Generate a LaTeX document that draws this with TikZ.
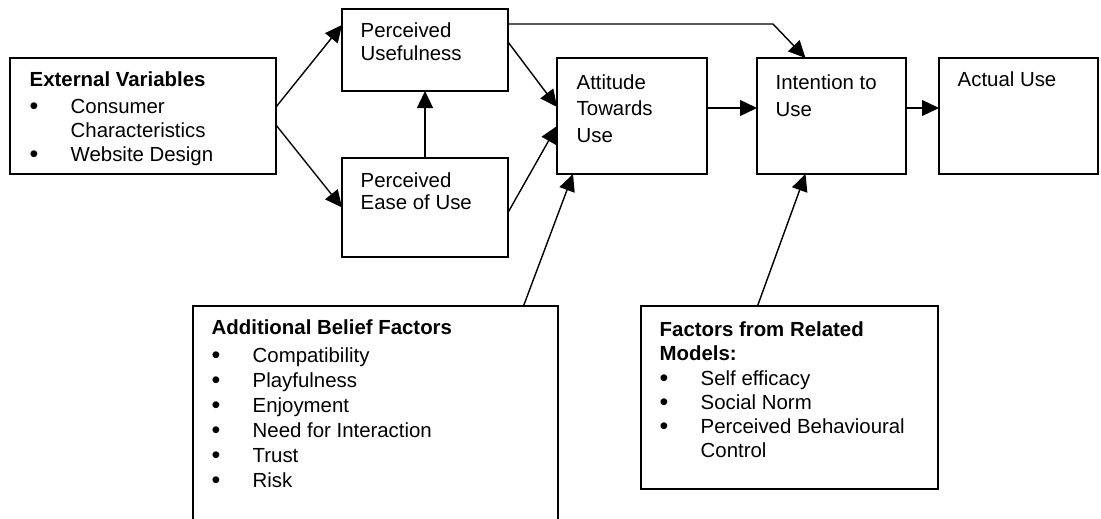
\documentclass[tikz,border=0pt]{standalone}
\usepackage{fontspec}
\setmainfont{Liberation Sans}
\usetikzlibrary{arrows.meta}

% bullet item and its continuation line
\newcommand{\itm}[1]{\makebox[41pt][l]{\raisebox{-1.7pt}{\fontsize{25}{25}\selectfont\textbullet}}#1}
\newcommand{\itmcont}[1]{\hspace*{41pt}#1}

\begin{document}
\begin{tikzpicture}[x=1pt, y=-1pt, line width=1.4pt, >={Triangle[length=17pt, width=16pt]},
  box/.style={draw, anchor=north west, inner sep=0pt, outer sep=0pt},
  txt/.style={anchor=base west, align=left, inner sep=0pt, font=\fontsize{20.4}{24}\selectfont},
  link/.style={->}]
\useasboundingbox (0,0) rectangle (1101,519);
\clip (0,0) rectangle (1101,519);

% boxes
\node[box, minimum width=266pt, minimum height=116pt] at (10,58) (ext) {};
\node[box, minimum width=166pt, minimum height=82pt] at (342,9) (useful) {};
\node[box, minimum width=166pt, minimum height=99pt] at (342,158) (ease) {};
\node[box, minimum width=150pt, minimum height=116pt] at (557,58) (attitude) {};
\node[box, minimum width=149pt, minimum height=116pt] at (757,58) (intention) {};
\node[box, minimum width=159pt, minimum height=116pt] at (939,58) (actual) {};
\node[box, minimum width=365pt, minimum height=260pt] at (193,306) (belief) {};
\node[box, minimum width=297pt, minimum height=183pt] at (641,306) (related) {};

% texts (placed by the baseline of their last line)
\node[txt] at (29,161) (ext-t) {\textbf{External Variables}\\[3pt]
  \itm{Consumer}\\ \itmcont{Characteristics}\\ \itm{Website Design}};
\node[txt, font=\fontsize{20.4}{23}\selectfont] at (360,61) (useful-t) {Perceived\\Usefulness};
\node[txt, font=\fontsize{20.4}{22}\selectfont] at (360,209) (ease-t) {Perceived\\Ease of Use};
\node[txt, font=\fontsize{20.4}{26.5}\selectfont] at (576,142) (attitude-t) {Attitude\\Towards\\Use};
\node[txt, font=\fontsize{20.4}{27}\selectfont] at (775,116) (intention-t) {Intention to\\Use};
\node[txt] at (957,86) (actual-t) {Actual Use};
\node[txt, font=\fontsize{20.4}{25}\selectfont] at (211,487) (belief-t) {\textbf{Additional Belief Factors}\\[3pt]
  \itm{Compatibility}\\ \itm{Playfulness}\\ \itm{Enjoyment}\\
  \itm{Need for Interaction}\\ \itm{Trust}\\ \itm{Risk}};
\node[txt] at (659,457) (related-t) {\textbf{Factors from Related}\\ \textbf{Models:}\\[1pt]
  \itm{Self efficacy}\\ \itm{Social Norm}\\ \itm{Perceived Behavioural}\\ \itmcont{Control}};

% arrows
\draw[link] ([yshift=9pt]ext.east) -- ([yshift=25pt]useful.west);
\draw[link] ([yshift=-9pt]ext.east) -- (ease.west);
\draw[link] (ease.north) -- (useful.south);
\draw[link] ([yshift=8pt]useful.east) -- ([yshift=9pt]attitude.west);
\draw[link] ([yshift=-5pt]ease.east) -- ([yshift=-10pt]attitude.west);
\coordinate (bend) at (773,24);
\draw[link] ([yshift=26pt]useful.east) -- (bend) -- ([xshift=-26pt]intention.north);
\draw[link] ([yshift=8pt]attitude.east) -- ([yshift=8pt]intention.west);
\draw[link] ([yshift=8pt]intention.east) -- ([yshift=8pt]actual.west);
\draw[link] ([xshift=148pt]belief.north) -- ([xshift=-59pt]attitude.south);
\draw[link] ([xshift=-32pt]related.north) -- ([xshift=-26pt]intention.south);
\end{tikzpicture}
\end{document}
